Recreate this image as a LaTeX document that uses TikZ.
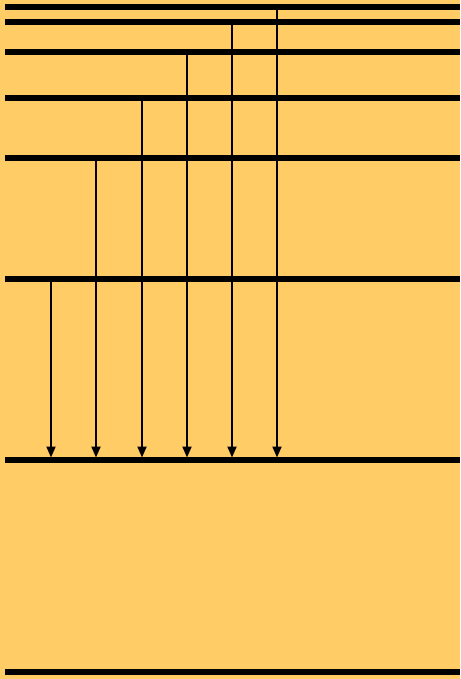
\documentclass[tikz,border=0pt]{standalone}
\usetikzlibrary{arrows.meta}
\definecolor{bg}{HTML}{FFCC66}
\begin{document}
\begin{tikzpicture}[x=1pt,y=-1pt,
  level/.style={line width=5.5pt},
  trans/.style={line width=2pt,-{Triangle[length=11pt,width=9pt]}}]
\fill[bg] (0,0) rectangle (460,679);
\useasboundingbox (0,0) rectangle (460,679);
% levels
\foreach \n/\y in {7/7,6/22,5/52,4/98,3/158,2/279,1/460,0/672}{
  \coordinate (L\n a) at (5,\y);
  \coordinate (L\n b) at (460,\y);
  \draw[level] (L\n a) -- (L\n b);
}
% transitions
\foreach \n/\x/\y in {2/51/279,3/96/158,4/142/98,5/187/52,6/232/22,7/277/7}{
  \coordinate (s\n) at (\x,\y);
  \coordinate (e\n) at (\x,457.5);
  \draw[trans] (s\n) -- (e\n);
}
\end{tikzpicture}
\end{document}
